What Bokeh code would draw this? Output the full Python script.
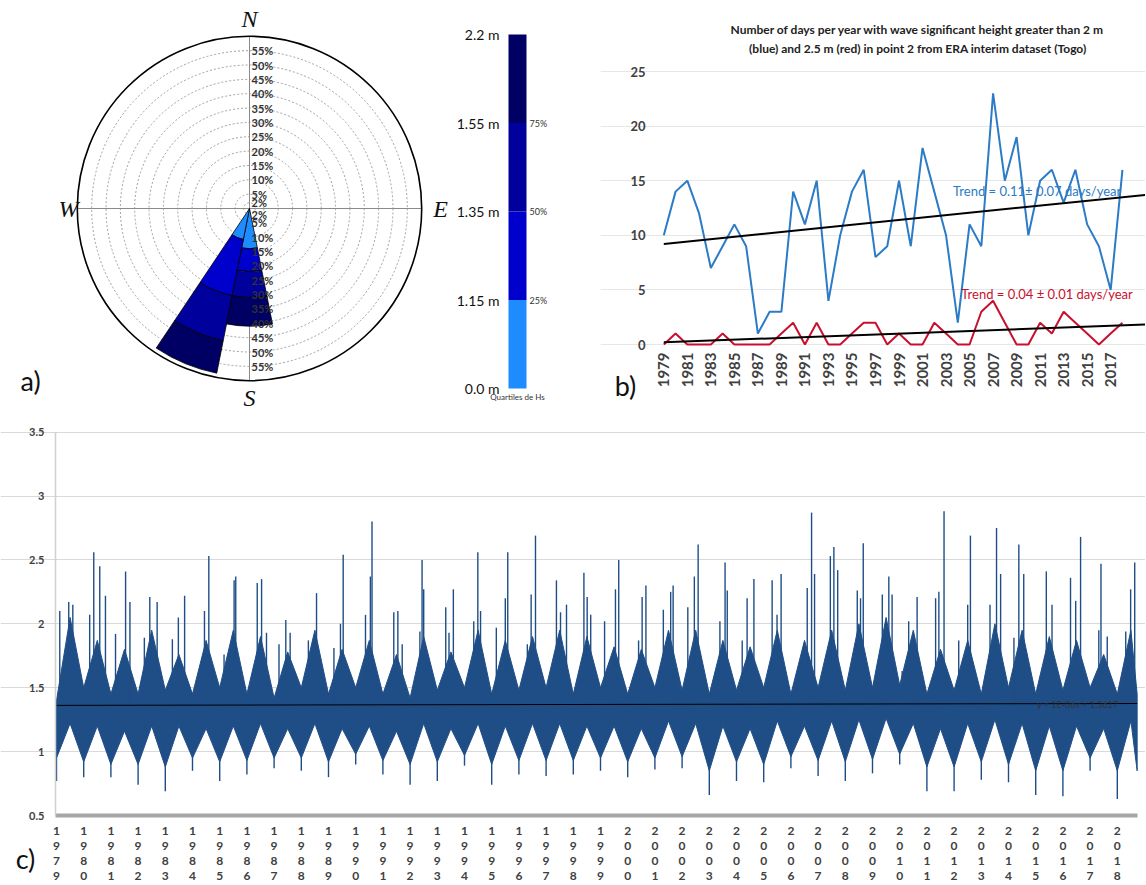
import numpy as np
from bokeh.plotting import figure
from bokeh.models import Range1d, FixedTicker, LinearAxis, NumeralTickFormatter
from bokeh.layouts import row, column
from bokeh.embed import file_html
from bokeh.resources import INLINE
from bokeh.core.properties import value

FONT = value("Lato")

# ---------------- panel a : wave rose ----------------
rose_dirs = ["S", "SSW"]
rose_bearing = [180.0, 202.5]          # sector centre, degrees from north
rose_width = 22.5
# % of occurrences in each Hs quartile class, stacked outwards
rose_q1 = [14.0, 11.0]    # Hs < 1.15 m
rose_q2 = [8.0, 20.0]     # 1.15 - 1.35 m
rose_q3 = [9.0, 16.0]     # 1.35 - 1.55 m
rose_q4 = [10.0, 11.5]    # 1.55 - 2.2 m
ring_levels = [2, 5, 10, 15, 20, 25, 30, 35, 40, 45, 50, 55]
rose_outer = 60
quartile_colors = ["#1E8CFF", "#0000CD", "#00009C", "#000064"]
cbar_labels = ["0.0 m", "1.15 m", "1.35 m", "1.55 m", "2.2 m"]
cbar_pct = ["25%", "50%", "75%"]

# ---------------- panel b : days per year ----------------
years_b = list(range(1979, 2019))
days_gt2 = [10, 14, 15, 12, 7, 9, 11, 9, 1, 3,
            3, 14, 11, 15, 4, 10, 14, 16, 8, 9,
            15, 9, 18, 14, 10, 2, 11, 9, 23, 15,
            19, 10, 15, 16, 13, 16, 11, 9, 5, 16]
days_gt25 = [0, 1, 0, 0, 0, 1, 0, 0, 0, 0,
             1, 2, 0, 2, 0, 0, 1, 2, 2, 0,
             1, 0, 0, 2, 1, 0, 0, 3, 4, 2,
             0, 0, 2, 1, 3, 2, 1, 0, 1, 2]
trend_gt2 = (9.2, 0.11)     # value in 1979, slope (days/year)
trend_gt25 = (0.2, 0.04)
b_title = ["Number of days per year with wave significant height greater than 2 m",
           "(blue) and 2.5 m (red) in point 2 from ERA interim dataset (Togo)"]

# ---------------- panel c : Hs time series ----------------
years_c = list(range(1979, 2019))
jan_min = [0.77, 0.80, 0.80, 0.74, 0.69, 0.85, 0.77, 0.82, 0.87, 0.85,
           0.80, 0.90, 0.82, 0.74, 0.77, 0.89, 0.74, 0.82, 0.81, 0.82,
           0.85, 0.80, 0.86, 0.87, 0.66, 0.77, 0.76, 0.87, 0.81, 0.77,
           0.83, 0.90, 0.69, 0.69, 0.78, 0.76, 0.66, 0.65, 0.85, 0.63]
jan_low = [0.95, 0.92, 0.90, 0.90, 0.88, 0.95, 0.92, 0.93, 0.95, 0.95,
           0.92, 0.98, 0.93, 0.90, 0.92, 0.97, 0.90, 0.93, 0.93, 0.93,
           0.95, 0.92, 0.95, 0.96, 0.85, 0.92, 0.90, 0.96, 0.93, 0.92,
           0.94, 0.98, 0.88, 0.88, 0.92, 0.90, 0.85, 0.85, 0.95, 0.85]
jan_high = [1.40, 1.50, 1.45, 1.45, 1.48, 1.45, 1.50, 1.45, 1.42, 1.50,
            1.45, 1.50, 1.45, 1.42, 1.48, 1.50, 1.45, 1.48, 1.50, 1.45,
            1.50, 1.45, 1.50, 1.48, 1.45, 1.48, 1.50, 1.45, 1.50, 1.48,
            1.50, 1.52, 1.45, 1.48, 1.45, 1.50, 1.45, 1.48, 1.50, 1.45]
mid_low = [1.22, 1.20, 1.16, 1.20, 1.20, 1.18, 1.20, 1.22, 1.18, 1.22,
           1.18, 1.20, 1.16, 1.22, 1.18, 1.22, 1.20, 1.22, 1.22, 1.20,
           1.20, 1.18, 1.24, 1.22, 1.20, 1.18, 1.24, 1.20, 1.24, 1.25,
           1.26, 1.22, 1.18, 1.22, 1.25, 1.22, 1.20, 1.20, 1.18, 1.24]
mid_high = [2.05, 1.87, 1.80, 1.95, 1.76, 1.87, 1.95, 1.90, 1.78, 1.95,
            1.80, 1.87, 1.76, 1.90, 1.78, 1.95, 1.87, 1.90, 1.95, 1.90,
            1.82, 1.80, 1.95, 1.95, 1.87, 1.82, 1.95, 1.87, 1.95, 2.00,
            2.05, 1.95, 1.80, 1.87, 2.00, 1.95, 1.90, 1.87, 1.76, 1.95]
series_start, series_end = 1978.963, 2018.73
spike_t = [1979.12, 1979.45, 1979.60, 1980.22, 1980.37, 1980.59, 1980.80,
           1981.17, 1981.54, 1981.70, 1982.23, 1982.43, 1982.70,
           1983.26, 1983.48, 1983.71, 1984.44, 1984.60,
           1985.16, 1985.53, 1985.59, 1986.38, 1986.54, 1986.72,
           1987.18, 1987.43, 1987.59, 1988.26, 1988.56,
           1989.20, 1989.44, 1989.54, 1990.36, 1990.54, 1990.60,
           1991.40, 1991.55, 1991.71, 1992.36, 1992.44, 1992.50,
           1993.31, 1993.43, 1993.59, 1994.34, 1994.49, 1994.59,
           1995.17, 1995.50, 1995.59, 1996.31, 1996.45, 1996.61,
           1997.38, 1997.53, 1997.75, 1998.39, 1998.51, 1998.64,
           1999.15, 1999.55, 1999.67, 2000.40, 2000.53, 2000.67,
           2001.31, 2001.58, 2001.67, 2002.21, 2002.45, 2002.59,
           2003.39, 2003.58, 2003.66, 2004.21, 2004.39, 2004.64,
           2005.31, 2005.49, 2005.64, 2006.60, 2006.76, 2006.87,
           2007.45, 2007.58, 2007.72, 2008.44, 2008.56, 2008.66,
           2009.36, 2009.60, 2009.72, 2010.09, 2010.33, 2010.64,
           2011.32, 2011.44, 2011.63, 2012.17, 2012.50, 2012.60,
           2013.32, 2013.56, 2013.71, 2014.20, 2014.38, 2014.56,
           2015.17, 2015.39, 2015.60, 2016.28, 2016.47, 2016.65,
           2017.32, 2017.40, 2017.63, 2018.31, 2018.49, 2018.64]
spike_v = [2.10, 2.17, 2.15, 2.07, 2.56, 2.45, 2.22,
           1.92, 2.41, 2.17, 1.89, 2.21, 2.17,
           1.88, 2.05, 2.22, 2.10, 2.53,
           1.76, 2.34, 2.37, 2.32, 2.35, 1.93,
           1.84, 2.03, 1.93, 1.87, 2.24,
           1.81, 2.00, 2.54, 2.07, 2.37, 2.80,
           2.09, 2.10, 1.84, 1.94, 2.50, 2.27,
           2.13, 1.93, 2.27, 2.02, 2.56, 2.10,
           1.97, 2.20, 2.56, 1.84, 2.23, 2.69,
           2.34, 2.09, 2.15, 2.40, 2.21, 2.07,
           2.02, 2.27, 2.50, 1.87, 2.21, 2.30,
           2.11, 2.25, 2.30, 2.13, 2.37, 2.62,
           2.02, 2.48, 2.26, 1.87, 2.20, 2.35,
           2.34, 2.07, 2.39, 2.28, 2.87, 2.39,
           2.53, 2.60, 2.42, 2.26, 2.20, 2.63,
           2.23, 2.37, 2.23, 1.63, 2.02, 2.21,
           2.20, 2.25, 2.88, 1.87, 2.15, 2.69,
           2.15, 2.75, 2.39, 1.89, 2.62, 2.39,
           1.59, 2.41, 2.15, 2.36, 2.18, 2.68,
           1.95, 2.47, 1.90, 1.94, 2.27, 2.48]
trend_c = (1.3617, 1e-06)   # intercept, slope per day


def bare(**kw):
    return figure(title=None, toolbar_location=None, output_backend="svg", min_border=0,
                  outline_line_color=None, **kw)


def quiet(ax):
    ax.major_tick_line_color = None
    ax.minor_tick_line_color = None
    ax.major_tick_out = 0
    ax.major_tick_in = 0
    ax.minor_tick_out = 0
    ax.minor_tick_in = 0


# =========================================================
# Panel a: rose  (frame = page x 0..455, y 0..413)
S = 2.87  # px per percent
cx, cy = 249, 208
rose = bare(frame_width=455, frame_height=413,
            x_range=Range1d((0 - cx) / S, (455 - cx) / S),
            y_range=Range1d((cy - 413) / S, cy / S), x_axis_type=None, y_axis_type=None)
rose.grid.visible = False
rose.circle(x=0, y=0, radius=ring_levels, fill_color=None, line_color="#8a8a8a",
            line_dash="2 2", line_width=0.8)
rose.segment(x0=[-rose_outer, 0], y0=[0, -rose_outer], x1=[rose_outer, 0], y1=[0, rose_outer],
             line_color="#8a8a8a", line_width=1)
cum = np.cumsum(np.array([rose_q1, rose_q2, rose_q3, rose_q4]), axis=0)
inner = np.vstack([np.zeros(len(rose_dirs)), cum[:-1]])
for k in range(4):
    starts = [90 - (b + rose_width / 2) for b in rose_bearing]
    ends = [90 - (b - rose_width / 2) for b in rose_bearing]
    rose.annular_wedge(x=0, y=0, inner_radius=list(inner[k]), outer_radius=list(cum[k]),
                       start_angle=starts, end_angle=ends, start_angle_units="deg",
                       end_angle_units="deg",
                       fill_color=quartile_colors[k], line_color="black", line_width=0.8)
rose.circle(x=0, y=0, radius=rose_outer, fill_color=None, line_color="black", line_width=1.6)
lab = [f"{v}%" for v in ring_levels]
rose.text(x=[0.7] * len(ring_levels), y=ring_levels, text=lab, text_font=FONT,
          text_font_size="11px", text_font_style="bold", text_color="#333333",
          text_baseline="middle", text_align="left")
rose.text(x=[0.7] * len(ring_levels), y=[-v for v in ring_levels], text=lab, text_font=FONT,
          text_font_size="11px", text_font_style="bold", text_color="#333333",
          text_baseline="middle", text_align="left")
rose.text(x=[0, 0, -63.1, 66.6], y=[66.2, -66.2, 0, 0], text=["N", "S", "W", "E"],
          text_font=value("Liberation Serif"), text_font_style="italic", text_font_size="24px",
          text_color="#111111", text_align="center", text_baseline="middle")
rose.text(x=[-76.3], y=[-59.9], text=["a)"], text_font=FONT, text_font_size="27px",
          text_color="#111111", text_align="center", text_baseline="middle")

# colour bar (frame = page x 455..600; bar 508..526, 4 at y=34, 0 at y=388)
CBX, CBY = 18.0, 88.5
cb = bare(frame_width=145, frame_height=413,
          x_range=Range1d((455 - 508) / CBX, (600 - 508) / CBX),
          y_range=Range1d(-(413 - 388) / CBY, 4 + 34 / CBY),
          x_axis_type=None, y_axis_location="left")
cb.grid.visible = False
cb.quad(left=0, right=1, bottom=[0, 1, 2, 3], top=[1, 2, 3, 4], fill_color=quartile_colors,
        line_color=None)
ya = cb.yaxis[0]
ya.fixed_location = 0
ya.ticker = FixedTicker(ticks=[0, 1, 2, 3, 4])
ya.major_label_overrides = {i: t for i, t in enumerate(cbar_labels)}
ya.axis_line_color = None
quiet(ya)
ya.major_label_standoff = 9
ya.major_label_text_font = "Lato"
ya.major_label_text_font_size = "14px"
ya.major_label_text_color = "#111111"
ra = LinearAxis(ticker=FixedTicker(ticks=[1, 2, 3]), fixed_location=1,
                major_label_overrides={i + 1: t for i, t in enumerate(cbar_pct)},
                axis_line_color=None, major_label_standoff=3, major_label_text_font="Lato",
                major_label_text_font_size="9px", major_label_text_color="#333333")
quiet(ra)
cb.add_layout(ra, "right")
cb.text(x=[0.5], y=[-0.04], text=["Quartiles de Hs"], text_font=FONT, text_font_size="8px",
        text_color="#333333", text_align="center", text_baseline="top")

# =========================================================
# Panel b (frame = page x 600..1145, y 0..413; 1979 at x=663.3, 0 at y=344)
PBX, PBY = 11.76, 10.92
pb = bare(frame_width=545, frame_height=413,
          x_range=Range1d(1979 + (600 - 663.3) / PBX, 1979 + (1145 - 663.3) / PBX),
          y_range=Range1d((344 - 413) / PBY, 344 / PBY))
x_left_b = 1979 + (658 - 663.3) / PBX
pb.xgrid.visible = False
pb.ygrid.ticker = FixedTicker(ticks=[0, 5, 10, 15, 20, 25])
pb.ygrid.grid_line_color = "#E6E6E6"
pb.ygrid.bounds = (x_left_b, 2021)
pb.yaxis.ticker = FixedTicker(ticks=[0, 5, 10, 15, 20, 25])
pb.yaxis.fixed_location = x_left_b
pb.xaxis.ticker = FixedTicker(ticks=list(range(1979, 2018, 2)))
pb.xaxis.fixed_location = (344 - 349) / PBY
for ax in (pb.xaxis[0], pb.yaxis[0]):
    ax.axis_line_color = None
    quiet(ax)
    ax.major_label_text_font = "Lato"
    ax.major_label_text_font_style = "bold"
    ax.major_label_text_color = "#404040"
pb.yaxis.major_label_text_font_size = "13px"
pb.yaxis.major_label_standoff = 13
pb.xaxis.major_label_text_font_size = "15px"
pb.xaxis.major_label_orientation = np.pi / 2
pb.xaxis.major_label_standoff = 3
pb.line(years_b, days_gt2, line_color="#2B7BC6", line_width=2)
pb.line(years_b, days_gt25, line_color="#C8102E", line_width=2)
tx = [1979, 2020.5]
pb.line(tx, [trend_gt2[0] + trend_gt2[1] * (t - 1979) for t in tx], line_color="black", line_width=2)
pb.line(tx, [trend_gt25[0] + trend_gt25[1] * (t - 1979) for t in tx], line_color="black", line_width=2)
pb.text(x=[2003.6], y=[14.1], text=["Trend = 0.11\u00b1 0.07 days/year"], text_font=FONT,
        text_font_size="13px", text_color="#2B7BC6", text_baseline="middle")
pb.text(x=[2004.3], y=[4.67], text=["Trend = 0.04 \u00b1 0.01 days/year"], text_font=FONT,
        text_font_size="13px", text_color="#C8102E", text_baseline="middle")
pb.text(x=[2000.6, 2000.6], y=[(344 - 29) / PBY, (344 - 48) / PBY], text=b_title, text_font=FONT,
        text_font_size="12px", text_font_style="bold", text_color="#222222",
        text_align="center", text_baseline="middle")
pb.text(x=[1979 + (625 - 663.3) / PBX], y=[(344 - 385) / PBY], text=["b)"], text_font=FONT,
        text_font_size="27px", text_color="#111111", text_align="center", text_baseline="middle")

# =========================================================
# Panel c (frame = page x 0..1145, y 413..884; 1979 at x=56, 0.5 at y=815)
PCX, PCY = 27.2, 127.8
pc = bare(frame_width=1145, frame_height=471,
          x_range=Range1d(1979 + (0 - 56) / PCX, 1979 + (1145 - 56) / PCX),
          y_range=Range1d(0.5 - (884 - 815) / PCY, 0.5 + (815 - 413) / PCY))
pc.xgrid.visible = False
pc.ygrid.ticker = FixedTicker(ticks=[1, 1.5, 2, 2.5, 3, 3.5])
pc.ygrid.grid_line_color = "#D9D9D9"
pc.ygrid.bounds = (series_start, 2018.74)
pc.yaxis.ticker = FixedTicker(ticks=[0.5, 1, 1.5, 2, 2.5, 3, 3.5])
pc.yaxis.formatter = NumeralTickFormatter(format="0.[0]")
pc.yaxis.fixed_location = series_start
pc.yaxis.bounds = (0.5, 3.5)
pc.yaxis.axis_line_color = "#D0D0D0"
pc.yaxis.axis_line_width = 1.5
pc.xaxis.ticker = FixedTicker(ticks=years_c)
pc.xaxis.major_label_overrides = {y: "\n".join(str(y)) for y in years_c}
pc.xaxis.fixed_location = 0.5
pc.xaxis.bounds = (series_start, 2018.74)
pc.xaxis.axis_line_color = "#A6A6A6"
pc.xaxis.axis_line_width = 4
for ax in (pc.xaxis[0], pc.yaxis[0]):
    quiet(ax)
    ax.major_label_text_font = "Lato"
    ax.major_label_text_font_style = "bold"
    ax.major_label_text_color = "#404040"
pc.yaxis.major_label_text_font_size = "11px"
pc.yaxis.major_label_standoff = 11
pc.xaxis.major_label_text_font_size = "12px"
pc.xaxis.major_label_text_line_height = 1.0
pc.xaxis.major_label_standoff = 7

NAVY = "#1F4E87"
up_x, up_y, lo_x, lo_y = [], [], [], []
for i, y in enumerate(years_c):
    up_x += [y, y + 0.5]
    up_y += [jan_high[i], mid_high[i]]
    lo_x += [y, y + 0.5]
    lo_y += [jan_low[i], mid_low[i]]
up_x.append(series_end); up_y.append(jan_high[-1])
lo_x.append(series_end); lo_y.append(jan_low[-1])
pc.patch(up_x + lo_x[::-1], up_y + lo_y[::-1], fill_color=NAVY, line_color=NAVY, line_width=1)
pc.segment(x0=spike_t, y0=[1.3] * len(spike_t), x1=spike_t, y1=spike_v, line_color=NAVY,
           line_width=1.4)
pc.segment(x0=years_c, y0=jan_min, x1=years_c, y1=jan_high, line_color=NAVY, line_width=1.4)
tcx = [1979, series_end]
pc.line(tcx, [trend_c[0] + trend_c[1] * (t - 1979) * 365.25 for t in tcx], line_color="black",
        line_width=1)
pc.text(x=[2015.05], y=[1.37], text=["y = 1E-06x + 1.3617"], text_font=FONT,
        text_font_size="9px", text_color="#333333", text_baseline="middle")
pc.text(x=[1979 + (25 - 56) / PCX], y=[0.5 - (858 - 815) / PCY], text=["c)"], text_font=FONT,
        text_font_size="27px", text_color="#111111", text_align="center", text_baseline="middle")

layout = column(row(rose, cb, pb), pc)
open("out.html", "w").write(file_html(layout, INLINE))
